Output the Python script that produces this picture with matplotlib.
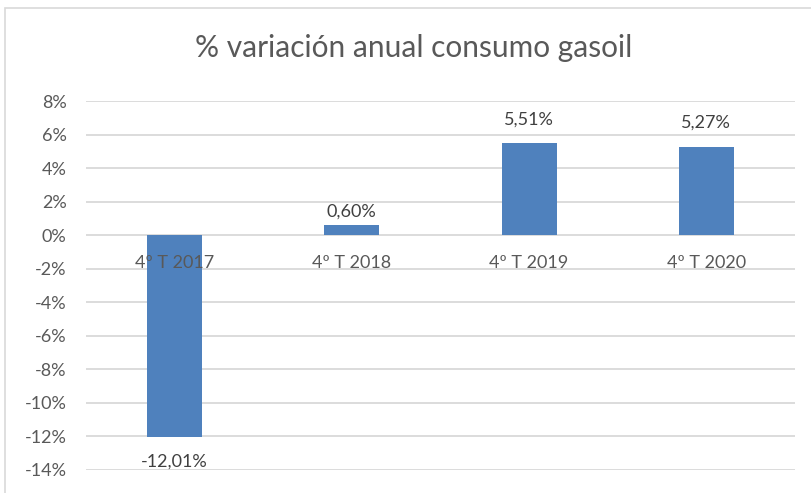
import matplotlib
matplotlib.use("Agg")
import matplotlib.pyplot as plt
from matplotlib.patches import Rectangle

categories = ["4º T 2017", "4º T 2018", "4º T 2019", "4º T 2020"]
values = [-12.01, 0.60, 5.51, 5.27]
labels = ["-12,01%", "0,60%", "5,51%", "5,27%"]
yticks = [8, 6, 4, 2, 0, -2, -4, -6, -8, -10, -12, -14]

# label gap from bar end, in pixels (style)
label_gap = [25, 13, 23, 24]

plt.rcParams['font.family'] = ['Lato', 'DejaVu Sans']
W, H = 812, 493
fig = plt.figure(figsize=(W/100, H/100), dpi=100)
fig.patch.set_facecolor("white")

fig.add_artist(Rectangle((5/W, -0.1), 1.2, (H-8)/H + 0.1, transform=fig.transFigure,
                         fill=False, edgecolor="#d9d9d9", linewidth=1.2))

left, right = 86, 795
top, bottom = 101, 470
ax = fig.add_axes([left/W, 1-bottom/H, (right-left)/W, (bottom-top)/H])
x = list(range(len(categories)))
ax.bar(x, values, width=0.31, color="#4f81bd", zorder=2)
ax.set_xlim(-0.5, len(categories)-0.5)
ax.set_ylim(-14, 8)
ax.set_yticks(yticks)
ax.set_yticklabels([f"{t}%" for t in yticks], color="#595959", fontsize=13)
ax.tick_params(axis='y', length=0, pad=14)
ax.set_xticks([])
for s in ax.spines.values():
    s.set_visible(False)
ax.grid(axis='y', color="#d9d9d9", linewidth=1.3, zorder=0)
ax.set_axisbelow(True)

for xi, c in zip(x, categories):
    ax.annotate(c, (xi, 0), xytext=(0, -27.5 * 0.72), textcoords='offset points',
                ha='center', va='center', color="#595959", fontsize=13, zorder=3)

for xi, v, l, g in zip(x, values, labels, label_gap):
    sign = 1 if v >= 0 else -1
    ax.annotate(l, (xi, v), xytext=(0, sign * g * 0.72), textcoords='offset points',
                ha='center', va='center', color="#404040", fontsize=13, zorder=3)

fig.text(414/W, 1-48/H, "% variación anual consumo gasoil", ha='center', va='center',
         color="#595959", fontsize=21.5)

fig.savefig("out.png", dpi=100)
